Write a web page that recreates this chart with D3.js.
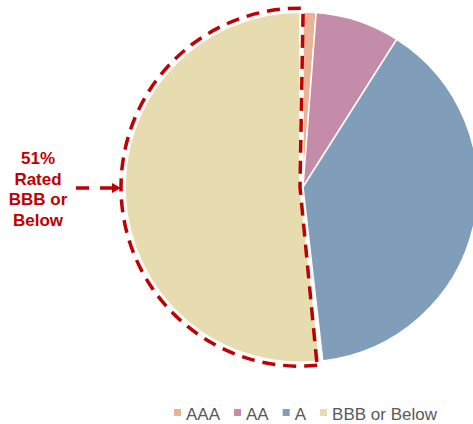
<!DOCTYPE html>
<html>
<head>
<meta charset="utf-8">
<script src="https://cdn.jsdelivr.net/npm/d3@7"></script>
<style>
  body { margin: 0; background: #fff; }
  svg { display: block; font-family: "Liberation Sans", Arial, sans-serif; }
</style>
</head>
<body>
<div id="vis"></div>
<script>
// ratings mix, percent of total
const categories = ["AAA", "AA", "A", "BBB or Below"];
const shares = [1.2, 7.8, 39.2, 51.8];
const colors = ["#E9B398", "#C48CA9", "#809EB9", "#E7DBB0"];
const calloutLines = ["51%", "Rated", "BBB or", "Below"];

const width = 473, height = 424;
const cx = 303, cy = 187, radius = 175;
const red = "#C00000";

const svg = d3.select("#vis").append("svg")
  .attr("width", width)
  .attr("height", height);

const data = categories.map((c, i) => ({ name: c, value: shares[i], color: colors[i] }));

const pie = d3.pie().value(d => d.value).sort(null);
const arcs = pie(data);

const arc = d3.arc().innerRadius(0).outerRadius(radius);

const g = svg.append("g").attr("transform", `translate(${cx},${cy})`);

// pull the last slice out a little
const explode = 3;
function offset(d, k) {
  if (d.data.name !== "BBB or Below") return [0, 0];
  const a = (d.startAngle + d.endAngle) / 2;
  return [Math.sin(a) * k, -Math.cos(a) * k];
}

g.selectAll("path.slice")
  .data(arcs)
  .join("path")
  .attr("class", "slice")
  .attr("d", arc)
  .attr("transform", d => `translate(${offset(d, explode)})`)
  .attr("fill", d => d.data.color)
  .attr("stroke", "#fff")
  .attr("stroke-width", 1.5);

// dashed outline round the BBB slice
const bbb = arcs[3];
const shift = 1 * Math.PI / 180;
const outline = d3.arc().innerRadius(0).outerRadius(radius + 4);
g.append("path")
  .attr("d", outline({ startAngle: bbb.startAngle + shift, endAngle: bbb.endAngle + shift }))
  .attr("transform", `translate(${offset(bbb, explode)})`)
  .attr("fill", "none")
  .attr("stroke", red)
  .attr("stroke-width", 3.5)
  .attr("stroke-dasharray", "13 8");

// callout text and arrow
const label = svg.append("text")
  .attr("text-anchor", "middle")
  .attr("fill", red)
  .attr("font-weight", "bold")
  .attr("font-size", 17);

label.selectAll("tspan")
  .data(calloutLines)
  .join("tspan")
  .attr("x", 38)
  .attr("y", (d, i) => 164 + i * 20.7)
  .text(d => d);

const ay = 188;
svg.append("line")
  .attr("x1", 76).attr("x2", 113)
  .attr("y1", ay).attr("y2", ay)
  .attr("stroke", red)
  .attr("stroke-width", 3.5)
  .attr("stroke-dasharray", "13 11");

svg.append("path")
  .attr("d", `M112,${ay - 5}L121,${ay}L112,${ay + 5}Z`)
  .attr("fill", red);

// legend
const legend = svg.append("g");
let lx = 174;
data.forEach(d => {
  legend.append("rect")
    .attr("x", lx).attr("y", 409)
    .attr("width", 7).attr("height", 7)
    .attr("fill", d.color);
  const t = legend.append("text")
    .attr("x", lx + 12)
    .attr("y", 419.5)
    .attr("fill", "#595959")
    .attr("font-size", 17)
    .text(d.name);
  lx += 12 + t.node().getComputedTextLength() + 14;
});
</script>
</body>
</html>
